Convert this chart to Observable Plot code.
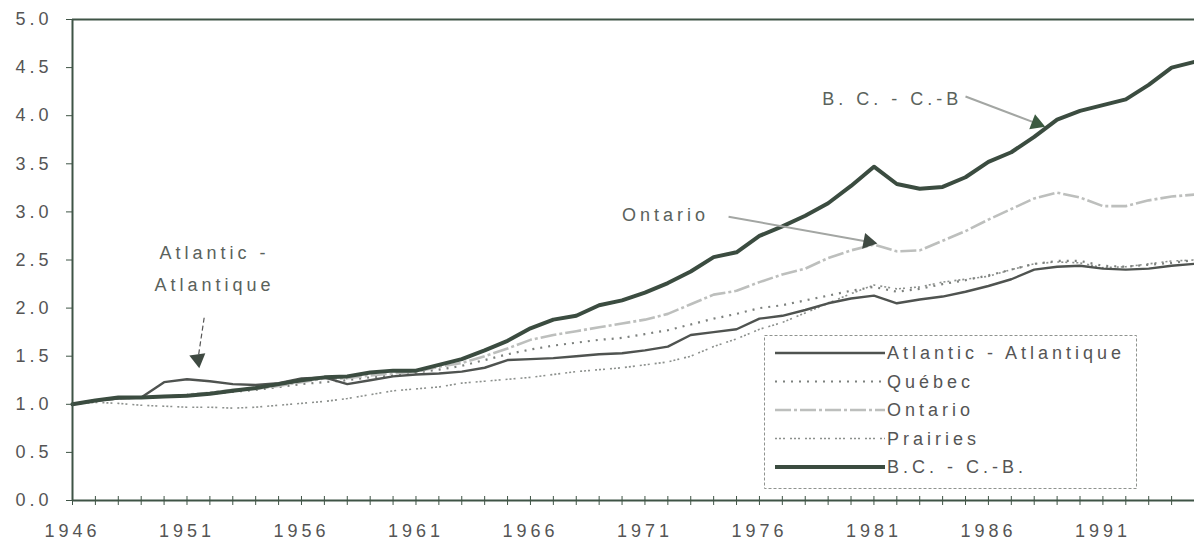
<!DOCTYPE html>
<html>
<head>
<meta charset="utf-8">
<script src="https://cdn.jsdelivr.net/npm/d3@7"></script>
<script src="https://cdn.jsdelivr.net/npm/@observablehq/plot@0.6"></script>
<style>
  body { margin: 0; background: #ffffff; }
  #wrap { position: relative; width: 1194px; height: 544px; overflow: hidden;
          font-family: "Liberation Sans", Arial, sans-serif; }
  #wrap svg text { letter-spacing: 4px; }
  #legend { position: absolute; left: 764px; top: 335px; }
</style>
</head>
<body>
<div id="wrap"></div>
<script>
// ---------- data ----------
const years = d3.range(1946, 1996);
const atlantic = [1.00,1.04,1.06,1.07,1.23,1.26,1.24,1.21,1.20,1.22,1.27,1.28,1.21,1.25,1.29,1.31,1.32,1.34,1.38,1.46,
                  1.47,1.48,1.50,1.52,1.53,1.56,1.60,1.72,1.75,1.78,1.89,1.92,1.98,2.05,2.10,2.13,2.05,2.09,2.12,2.17,
                  2.23,2.30,2.40,2.43,2.44,2.41,2.40,2.41,2.44,2.46];
const quebec   = [1.00,1.04,1.06,1.07,1.08,1.09,1.11,1.13,1.15,1.18,1.21,1.23,1.25,1.28,1.30,1.33,1.36,1.40,1.46,1.52,
                  1.57,1.61,1.64,1.67,1.69,1.73,1.77,1.83,1.89,1.94,2.00,2.03,2.08,2.13,2.18,2.22,2.17,2.20,2.25,2.29,
                  2.34,2.40,2.46,2.49,2.49,2.44,2.43,2.45,2.47,2.50];
const ontario  = [1.00,1.04,1.06,1.07,1.08,1.10,1.12,1.15,1.16,1.19,1.23,1.27,1.27,1.30,1.32,1.34,1.39,1.43,1.50,1.58,
                  1.67,1.72,1.76,1.80,1.84,1.88,1.94,2.04,2.14,2.18,2.27,2.35,2.41,2.52,2.60,2.66,2.59,2.60,2.70,2.80,
                  2.92,3.03,3.14,3.20,3.15,3.06,3.06,3.12,3.16,3.18];
const prairies = [1.00,1.02,1.01,0.99,0.98,0.97,0.97,0.96,0.97,0.99,1.01,1.03,1.06,1.10,1.14,1.16,1.18,1.22,1.24,1.26,
                  1.28,1.31,1.34,1.36,1.38,1.41,1.44,1.50,1.60,1.68,1.78,1.85,1.95,2.05,2.15,2.24,2.20,2.22,2.27,2.30,
                  2.33,2.40,2.46,2.48,2.47,2.42,2.43,2.46,2.49,2.50];
const bc       = [1.00,1.04,1.07,1.07,1.08,1.09,1.11,1.14,1.17,1.21,1.25,1.28,1.29,1.33,1.35,1.35,1.41,1.47,1.56,1.66,
                  1.79,1.88,1.92,2.03,2.08,2.16,2.26,2.38,2.53,2.58,2.75,2.85,2.96,3.09,3.27,3.47,3.29,3.24,3.26,3.36,
                  3.52,3.62,3.78,3.96,4.05,4.11,4.17,4.32,4.50,4.56];
const seriesNames = ["Atlantic - Atlantique", "Québec", "Ontario", "Prairies", "B.C. - C.-B."];
const yTicks = [0, 0.5, 1, 1.5, 2, 2.5, 3, 3.5, 4, 4.5, 5];
const xLabelYears = [1946, 1951, 1956, 1961, 1966, 1971, 1976, 1981, 1986, 1991];

// annotation anchors (data space: year, value)
const noteTexts = [
  {label: "Atlantic -",  year: 1952.2, value: 2.57},
  {label: "Atlantique",  year: 1952.2, value: 2.24},
  {label: "Ontario",     year: 1971.9, value: 2.97},
  {label: "B. C. - C.-B", year: 1981.8, value: 4.17}
];
const noteArrows = [
  {name: "atl", x1: 1951.75, y1: 1.90, x2: 1951.48, y2: 1.47},
  {name: "ont", x1: 1974.65, y1: 2.95, x2: 1980.75, y2: 2.69},
  {name: "bc",  x1: 1985.0,  y1: 4.20, x2: 1988.1,  y2: 3.92}
];

// ---------- styles ----------
const styles = {
  "Atlantic - Atlantique": {stroke: "#4f5350", strokeWidth: 2.4, dash: null},
  "Québec":                {stroke: "#7d817e", strokeWidth: 2.2, dash: "2,6"},
  "Ontario":               {stroke: "#bdbfbd", strokeWidth: 2.6, dash: "16,3,3,3"},
  "Prairies":              {stroke: "#8c908d", strokeWidth: 1.6, dash: "2,2,2,2,2,5"},
  "B.C. - C.-B.":          {stroke: "#3b4c40", strokeWidth: 4, dash: null}
};
const seriesValues = [atlantic, quebec, ontario, prairies, bc];
const tidy = seriesNames.map((name, i) => years.map((year, j) => ({series: name, year, value: seriesValues[i][j]})));
const axisColor = "#3f5446";
const drawOrder = [3, 1, 2, 0, 4];

const plot = Plot.plot({
  width: 1194,
  height: 544,
  marginTop: 19,
  marginBottom: 44,
  marginLeft: 72,
  marginRight: 0,
  style: {fontFamily: "'Liberation Sans', Arial, sans-serif", fontSize: "18px", color: "#555", background: "transparent", overflow: "visible"},
  x: {type: "linear", domain: [1946, 1995], label: null},
  y: {domain: [0, 5], label: null},
  marks: [
    Plot.ruleY([5], {stroke: axisColor, strokeWidth: 2}),
    ...drawOrder.map(i => {
      const s = styles[seriesNames[i]];
      return Plot.line(tidy[i], {x: "year", y: "value", stroke: s.stroke, strokeWidth: s.strokeWidth,
        strokeDasharray: s.dash, strokeLinejoin: "round", strokeLinecap: s.dash ? "butt" : "round"});
    }),
    Plot.ruleY([0], {stroke: axisColor, strokeWidth: 2}),
    Plot.ruleX([1946], {stroke: axisColor, strokeWidth: 2}),
    Plot.axisY(yTicks, {tickSize: 6, tickPadding: 14, tickFormat: d3.format(".1f"), stroke: axisColor, fill: "#555"}),
    Plot.axisX(years, {tickSize: 5, tickFormat: () => "", stroke: axisColor}),
    Plot.axisX(years, {tickSize: -4, tickFormat: () => "", stroke: axisColor}),
    Plot.axisX(xLabelYears, {tickSize: 0, tickPadding: 24, tickFormat: d => String(d), fill: "#555"}),
    // annotations
    Plot.link(noteArrows.filter(d => d.name === "atl"), {x1: "x1", y1: "y1", x2: "x2", y2: "y2", stroke: "#555", strokeWidth: 1.2, strokeDasharray: "5,3"}),
    Plot.link(noteArrows.filter(d => d.name !== "atl"), {x1: "x1", y1: "y1", x2: "x2", y2: "y2", stroke: "#a3a6a3", strokeWidth: 2}),
    Plot.dot(noteArrows.filter(d => d.name === "atl"), {x: "x2", y: "y2", symbol: "triangle", r: 6, fill: "#3f4a42", stroke: "none", rotate: 172}),
    Plot.dot(noteArrows.filter(d => d.name === "ont"), {x: "x2", y: "y2", symbol: "triangle", r: 6, fill: "#3f4a42", stroke: "none", rotate: 101}),
    Plot.dot(noteArrows.filter(d => d.name === "bc"),  {x: "x2", y: "y2", symbol: "triangle", r: 6, fill: "#3b5a40", stroke: "none", rotate: 111}),
    Plot.text(noteTexts, {x: "year", y: "value", text: "label", fill: "#5a625c", fontSize: 18, textAnchor: "middle"})
  ]
});
document.getElementById("wrap").appendChild(plot);

// ---------- legend ----------
const lg = d3.select("#wrap").append("svg").attr("id", "legend").attr("width", 373).attr("height", 154);
lg.append("rect").attr("x", 0.5).attr("y", 0.5).attr("width", 372).attr("height", 153)
  .attr("fill", "#ffffff").attr("stroke", "#8f938f").attr("stroke-width", 1).attr("stroke-dasharray", "3,2");
seriesNames.forEach((name, i) => {
  const s = styles[name];
  const cy = 18 + i * 28.5;
  lg.append("line").attr("x1", 11).attr("x2", 121).attr("y1", cy).attr("y2", cy)
    .attr("stroke", s.stroke).attr("stroke-width", s.strokeWidth)
    .attr("stroke-dasharray", s.dash);
  lg.append("text").attr("x", 123).attr("y", cy).attr("dy", "0.35em")
    .attr("font-family", "'Liberation Sans', Arial, sans-serif").attr("font-size", 18)
    .attr("fill", "#555").text(name);
});
</script>
</body>
</html>
